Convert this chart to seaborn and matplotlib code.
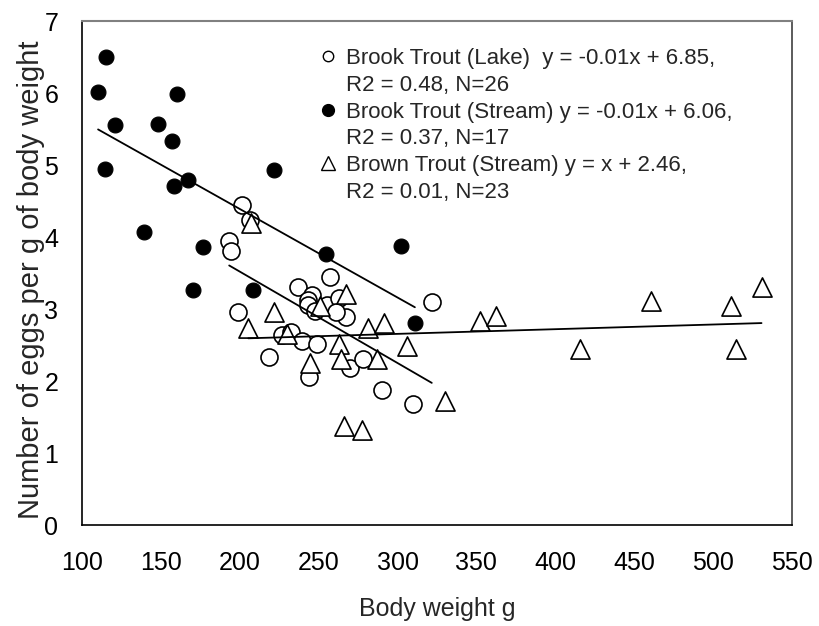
import matplotlib
matplotlib.use("Agg")
import matplotlib.pyplot as plt
from matplotlib.lines import Line2D
import numpy as np
import pandas as pd
import seaborn as sns

# Brook trout, lake population
lake_x = [201.2, 206.5, 193.3, 194.6, 257.1, 236.6, 246.1, 243.5, 243.5, 255.0,
          262.8, 267.1, 260.7, 198.7, 226.6, 232.4, 239.4, 249.1, 218.5, 243.9,
          270.0, 278.1, 289.9, 309.9, 321.7, 248.0]
lake_y = [4.45, 4.23, 3.95, 3.81, 3.45, 3.31, 3.20, 3.13, 3.05, 3.05,
          3.15, 2.89, 2.96, 2.96, 2.64, 2.68, 2.56, 2.51, 2.33, 2.06,
          2.18, 2.30, 1.88, 1.68, 3.10, 2.97]

# Brook trout, stream population
stream_x = [115.4, 110.2, 160.2, 121.1, 148.3, 157.0, 114.4, 221.8, 167.0, 158.3,
            139.5, 254.9, 176.9, 170.6, 208.3, 302.2, 311.0]
stream_y = [6.50, 6.01, 5.98, 5.55, 5.57, 5.33, 4.95, 4.93, 4.79, 4.71,
            4.07, 3.77, 3.86, 3.26, 3.26, 3.87, 2.81]

# Brown trout, stream population
brown_x = [207.1, 267.1, 250.8, 221.6, 205.4, 230.2, 262.9, 264.0, 244.5, 281.5,
           291.5, 306.0, 287.3, 266.2, 277.4, 330.0, 352.2, 362.2, 415.6, 460.4,
           511.1, 514.5, 530.7]
brown_y = [4.20, 3.21, 3.04, 2.96, 2.74, 2.66, 2.51, 2.30, 2.25, 2.74,
           2.81, 2.49, 2.30, 1.37, 1.32, 1.72, 2.83, 2.90, 2.45, 3.11,
           3.04, 2.45, 3.31]

# Trend lines (slope, intercept), each spanning its own series' weight range
trend_slopes = [-0.0127, -0.0123, 0.00065]
trend_intercepts = [6.06, 6.85, 2.46]

legend_lines = [
    ("Brook Trout (Lake)  y = -0.01x + 6.85,", "R2 = 0.48, N=26"),
    ("Brook Trout (Stream) y = -0.01x + 6.06,", "R2 = 0.37, N=17"),
    ("Brown Trout (Stream) y = x + 2.46,", "R2 = 0.01, N=23"),
]

x_ticks = [100, 150, 200, 250, 300, 350, 400, 450, 500, 550]
y_ticks = [0, 1, 2, 3, 4, 5, 6, 7]

sns.set_style("white")
plt.rcParams["font.family"] = ["Liberation Sans", "DejaVu Sans"]

fig = plt.figure(figsize=(8.19, 6.26), dpi=100)
ax = fig.add_axes([0.1001, 0.1613, 0.8669, 0.8051])

lake = pd.DataFrame({"w": lake_x, "eggs": lake_y})
stream = pd.DataFrame({"w": stream_x, "eggs": stream_y})
brown = pd.DataFrame({"w": brown_x, "eggs": brown_y})

sns.scatterplot(data=lake, x="w", y="eggs", ax=ax, marker="o", s=150,
                facecolor="white", edgecolor="black", linewidth=1.2, zorder=3)
sns.scatterplot(data=stream, x="w", y="eggs", ax=ax, marker="o", s=115,
                color="black", edgecolor="black", linewidth=0.8, zorder=4)
sns.scatterplot(data=brown, x="w", y="eggs", ax=ax, marker="^", s=190,
                facecolor="white", edgecolor="black", linewidth=1.2, zorder=5)

for xs, m, b in zip([lake_x, stream_x, brown_x], trend_slopes, trend_intercepts):
    xx = np.array([min(xs), max(xs)])
    sns.lineplot(x=xx, y=m * xx + b, ax=ax, color="black", linewidth=1.3,
                 zorder=6, legend=False)

ax.set_xlim(100, 550)
ax.set_ylim(0, 7)
ax.set_xticks(x_ticks)
ax.set_yticks(y_ticks)
ax.tick_params(axis="both", direction="out", length=7, width=1.0,
               labelsize=18, colors="black")
ax.tick_params(axis="x", pad=12)
ax.tick_params(axis="y", pad=10)
ax.set_xlabel("Body weight g", fontsize=18)
ax.set_ylabel("Number of eggs per g of body weight", fontsize=21)
ax.xaxis.set_label_coords(0.5, -0.142)
ax.yaxis.set_label_coords(-0.052, 0.486)

for side in ["left", "bottom"]:
    ax.spines[side].set_color("black")
    ax.spines[side].set_linewidth(1.2)
ax.spines["top"].set_color("#808080")
ax.spines["top"].set_linewidth(1.5)
ax.spines["right"].set_color("#404040")
ax.spines["right"].set_linewidth(1.2)

blank = Line2D([], [], linestyle="none", marker=None)
handles = [
    Line2D([], [], linestyle="none", marker="o", markersize=7.5,
           markerfacecolor="white", markeredgecolor="black", markeredgewidth=1.0),
    blank,
    Line2D([], [], linestyle="none", marker="o", markersize=8.5,
           markerfacecolor="black", markeredgecolor="black"),
    blank,
    Line2D([], [], linestyle="none", marker="^", markersize=10,
           markerfacecolor="white", markeredgecolor="black", markeredgewidth=1.0),
    blank,
]
labels = []
for first, second in legend_lines:
    labels += [first, second]

ax.legend(handles, labels, loc="upper left",
          bbox_to_anchor=(320 / 819, 1 - 48 / 626), bbox_transform=fig.transFigure,
          frameon=False, fontsize=16, handlelength=0.7, handletextpad=0.45,
          labelspacing=0.26, borderpad=0, borderaxespad=0)

fig.savefig("out.png", dpi=100)
